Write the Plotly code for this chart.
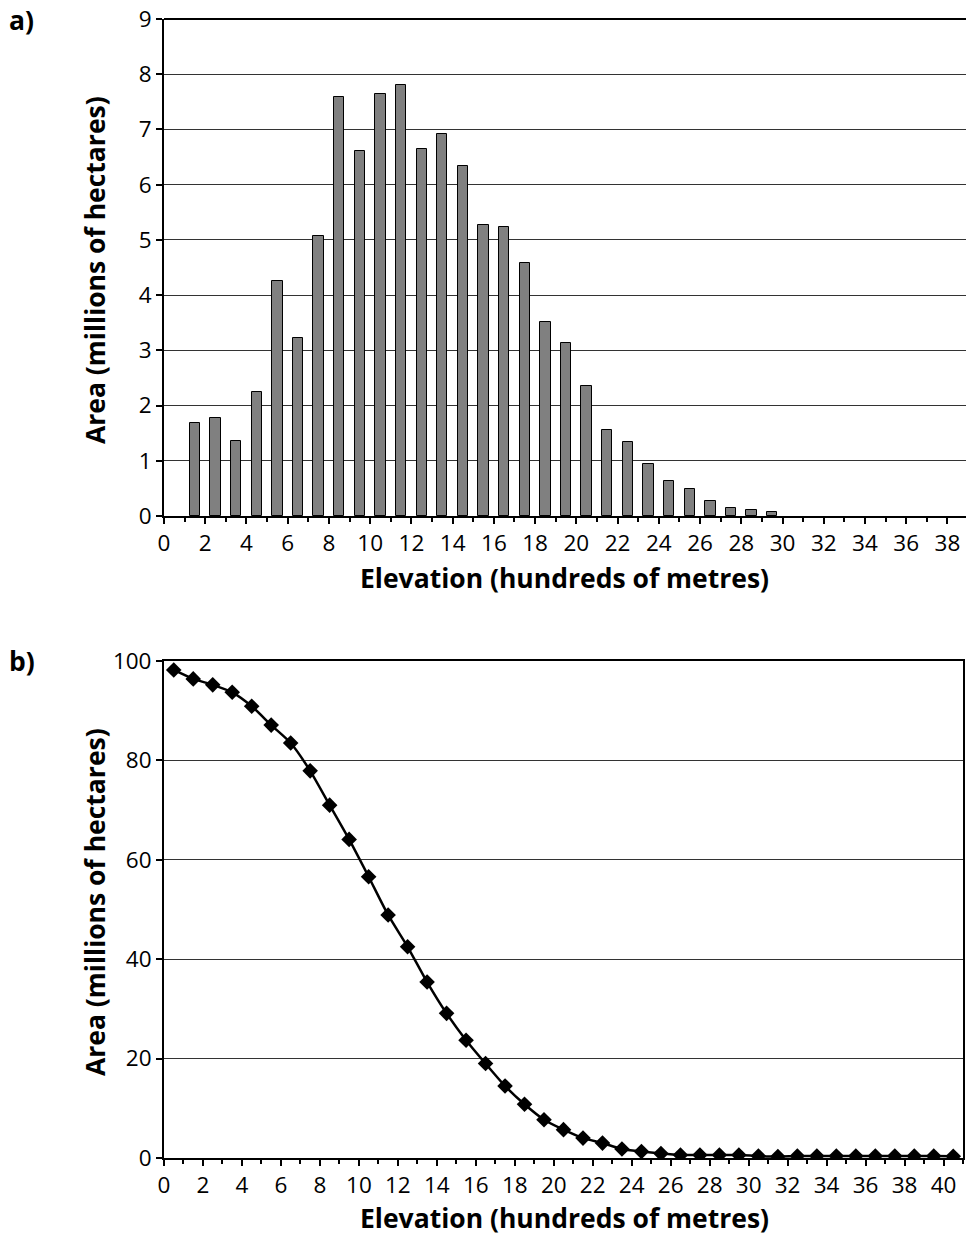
import plotly.graph_objects as go

# ---- data ----
bar_elev = [1.5, 2.5, 3.5, 4.5, 5.5, 6.5, 7.5, 8.5, 9.5, 10.5, 11.5, 12.5, 13.5, 14.5,
            15.5, 16.5, 17.5, 18.5, 19.5, 20.5, 21.5, 22.5, 23.5, 24.5, 25.5, 26.5,
            27.5, 28.5, 29.5]
bar_area = [1.69, 1.78, 1.35, 2.25, 4.26, 3.23, 5.07, 7.59, 6.61, 7.65, 7.80, 6.64, 6.91, 6.34,
            5.27, 5.23, 4.59, 3.51, 3.13, 2.36, 1.55, 1.34, 0.95, 0.64, 0.49, 0.27,
            0.15, 0.11, 0.08]

cum_elev = [0.5, 1.5, 2.5, 3.5, 4.5, 5.5, 6.5, 7.5, 8.5, 9.5, 10.5, 11.5, 12.5, 13.5,
            14.5, 15.5, 16.5, 17.5, 18.5, 19.5, 20.5, 21.5, 22.5, 23.5, 24.5, 25.5,
            26.5, 27.5, 28.5, 29.5, 30.5, 31.5, 32.5, 33.5, 34.5, 35.5, 36.5, 37.5,
            38.5, 39.5, 40.5]
cum_area = [98.2, 96.4, 95.2, 93.7, 90.9, 87.1, 83.5, 77.9, 71.0, 64.1, 56.6, 48.9, 42.5, 35.4,
            29.1, 23.7, 19.0, 14.5, 10.8, 7.7, 5.7, 4.0, 3.0, 1.8, 1.3, 0.9,
            0.6, 0.6, 0.6, 0.6, 0.4, 0.3, 0.4, 0.4, 0.4, 0.4, 0.4, 0.4,
            0.4, 0.4, 0.35]

xa_ticks = list(range(0, 39, 2))
xb_ticks = list(range(0, 41, 2))
ya_ticks = list(range(0, 10))
yb_ticks = [0, 20, 40, 60, 80, 100]

W, H = 966, 1237
FONT = "Open Sans"

fig = go.Figure()

fig.add_trace(go.Bar(
    x=bar_elev, y=bar_area, width=0.5,
    marker=dict(color="#808080", line=dict(color="black", width=1)),
    xaxis="x", yaxis="y", showlegend=False,
))

fig.add_trace(go.Scatter(
    x=cum_elev, y=cum_area, mode="lines+markers",
    line=dict(color="black", width=2.5, shape="spline", smoothing=0.6),
    marker=dict(symbol="diamond", size=12, color="black"),
    xaxis="x2", yaxis="y2", showlegend=False,
))

tickfont = dict(family=FONT, size=22.5, color="black")
common_axis = dict(showline=True, linecolor="black", linewidth=2, ticks="outside",
                   tickcolor="black", tickwidth=1.5, ticklen=6, tickfont=tickfont,
                   zeroline=False, automargin=False)

fig.update_layout(
    template="none",
    width=W, height=H,
    margin=dict(l=0, r=0, t=0, b=0, pad=0, autoexpand=False),
    plot_bgcolor="white", paper_bgcolor="white",
    font=dict(family=FONT, color="black"),
    showlegend=False,
    bargap=0,
    xaxis=dict(domain=[164 / W, 1.0], range=[0, 38.9], anchor="y",
               tickvals=xa_ticks, ticktext=[str(v) for v in xa_ticks],
               showgrid=False, mirror=False,
               minor=dict(ticks="outside", dtick=1, tick0=1, ticklen=4,
                          tickcolor="black", tickwidth=1.5, showgrid=False),
               **common_axis),
    yaxis=dict(domain=[1 - 516 / H, 1 - 19 / H], range=[0, 9], anchor="x",
               tickvals=ya_ticks, showgrid=True, gridcolor="#333333", gridwidth=1,
               **common_axis),
    xaxis2=dict(domain=[164 / W, 963 / W], range=[0, 41], anchor="y2",
                tickvals=xb_ticks, ticktext=[str(v) for v in xb_ticks],
                showgrid=False, mirror=True,
                minor=dict(ticks="outside", dtick=1, tick0=1, ticklen=4,
                           tickcolor="black", tickwidth=1.5, showgrid=False),
                **common_axis),
    yaxis2=dict(domain=[1 - 1158 / H, 1 - 661 / H], range=[0, 100], anchor="x2",
                tickvals=yb_ticks, showgrid=True, gridcolor="#333333", gridwidth=1,
                mirror=True, **common_axis),
)

# top border of panel a
fig.add_shape(type="line", xref="x domain", yref="y domain", x0=0, x1=1, y0=1, y1=1,
              line=dict(color="black", width=2))

title_font = dict(family=FONT, size=26.5, color="black")
ann = [
    dict(text="<b>a)</b>", x=8 / W, y=1 - 20 / H, xanchor="left", yanchor="middle"),
    dict(text="<b>b)</b>", x=8 / W, y=1 - 661 / H, xanchor="left", yanchor="middle"),
    dict(text="<b>Area (millions of hectares)</b>", x=95 / W, y=1 - 270 / H,
         textangle=-90, xanchor="center", yanchor="middle"),
    dict(text="<b>Area (millions of hectares)</b>", x=95 / W, y=1 - 902 / H,
         textangle=-90, xanchor="center", yanchor="middle"),
    dict(text="<b>Elevation (hundreds of metres)</b>", x=564 / W, y=1 - 578 / H,
         xanchor="center", yanchor="middle"),
    dict(text="<b>Elevation (hundreds of metres)</b>", x=564 / W, y=1 - 1218 / H,
         xanchor="center", yanchor="middle"),
]
for a in ann:
    fig.add_annotation(xref="paper", yref="paper", showarrow=False, font=title_font,
                       borderpad=0, **a)

fig.write_html("out.html")
